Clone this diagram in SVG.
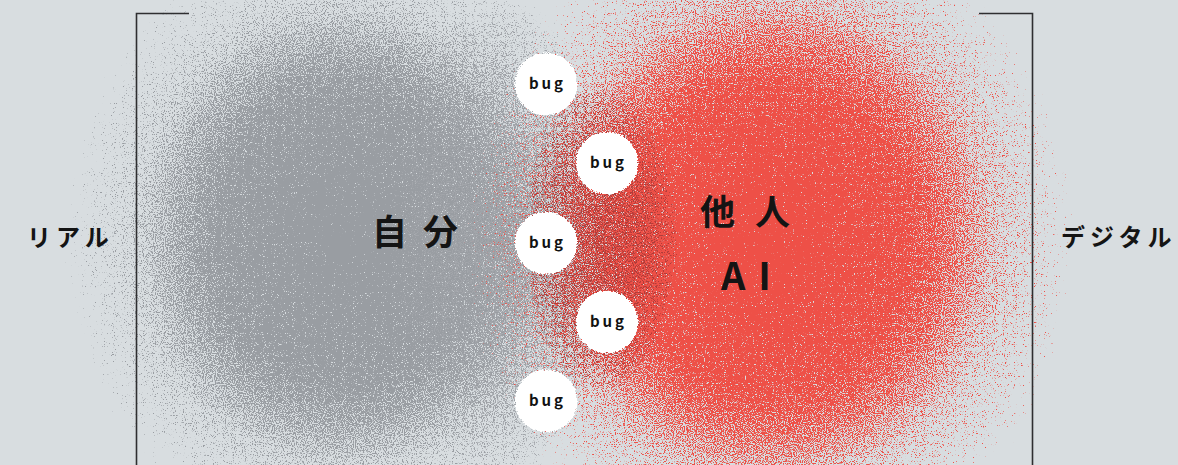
<svg xmlns="http://www.w3.org/2000/svg" width="1178" height="465" viewBox="0 0 1178 465">
  <style>
    .lbl { font-family: "Noto Sans CJK JP", "Noto Sans", sans-serif; font-weight: 700; fill: #141414; }
    .side { font-size: 24px; letter-spacing: 5px; }
    .big { font-size: 35px; letter-spacing: 16px; }
    .big2 { font-size: 35px; letter-spacing: 20px; }
    .ai { font-size: 38px; letter-spacing: 13px; }
    .bug { font-family: "Noto Sans CJK JP", "Noto Sans", sans-serif; font-weight: 700; font-size: 15px; letter-spacing: 3px; fill: #111; text-anchor: middle; }
    .bracket { fill: none; stroke: #2e2e30; stroke-width: 1.6; }
  </style>
  <defs>
    <radialGradient id="gBlob">
      <stop offset="0" stop-color="#000" stop-opacity="1"/>
      <stop offset="0.45" stop-color="#000" stop-opacity="0.82"/>
      <stop offset="0.55" stop-color="#000" stop-opacity="0.69"/>
      <stop offset="0.65" stop-color="#000" stop-opacity="0.56"/>
      <stop offset="0.72" stop-color="#000" stop-opacity="0.44"/>
      <stop offset="0.8" stop-color="#000" stop-opacity="0.35"/>
      <stop offset="0.88" stop-color="#000" stop-opacity="0.27"/>
      <stop offset="0.95" stop-color="#000" stop-opacity="0.18"/>
      <stop offset="1" stop-color="#000" stop-opacity="0"/>
    </radialGradient>
    <radialGradient id="gMid">
      <stop offset="0" stop-color="#000" stop-opacity="0.62"/>
      <stop offset="0.6" stop-color="#000" stop-opacity="0.5"/>
      <stop offset="0.85" stop-color="#000" stop-opacity="0.36"/>
      <stop offset="1" stop-color="#000" stop-opacity="0"/>
    </radialGradient>
    <radialGradient id="gDark">
      <stop offset="0" stop-color="#000" stop-opacity="0.58"/>
      <stop offset="0.6" stop-color="#000" stop-opacity="0.5"/>
      <stop offset="0.85" stop-color="#000" stop-opacity="0.38"/>
      <stop offset="1" stop-color="#000" stop-opacity="0"/>
    </radialGradient>
    <radialGradient id="gDot">
      <stop offset="0" stop-color="#000" stop-opacity="1"/>
      <stop offset="0.93" stop-color="#000" stop-opacity="1"/>
      <stop offset="1" stop-color="#000" stop-opacity="0"/>
    </radialGradient>
    <filter id="fGray" filterUnits="userSpaceOnUse" x="0" y="0" width="1178" height="465" color-interpolation-filters="sRGB">
      <feTurbulence type="fractalNoise" baseFrequency="0.9" numOctaves="2" seed="3" result="t"/>
      <feColorMatrix in="t" type="matrix" values="0 0 0 0 0  0 0 0 0 0  0 0 0 0 0  1.5 0 0 0 -0.25" result="n"/>
      <feComposite in="SourceAlpha" in2="n" operator="arithmetic" k1="0" k2="1.05" k3="-1" k4="-0.03" result="d"/>
      <feComponentTransfer in="d" result="m"><feFuncA type="linear" slope="6" intercept="0"/></feComponentTransfer>
      <feFlood flood-color="#999da2" result="c"/>
      <feComposite in="c" in2="m" operator="in"/>
    </filter>
    <filter id="fGray2" filterUnits="userSpaceOnUse" x="0" y="0" width="1178" height="465" color-interpolation-filters="sRGB">
      <feTurbulence type="fractalNoise" baseFrequency="0.9" numOctaves="2" seed="17" result="t"/>
      <feColorMatrix in="t" type="matrix" values="0 0 0 0 0  0 0 0 0 0  0 0 0 0 0  1.5 0 0 0 -0.25" result="n"/>
      <feComposite in="SourceAlpha" in2="n" operator="arithmetic" k1="0" k2="1.05" k3="-1" k4="-0.03" result="d"/>
      <feComponentTransfer in="d" result="m"><feFuncA type="linear" slope="6" intercept="0"/></feComponentTransfer>
      <feFlood flood-color="#a2a5aa" result="c"/>
      <feComposite in="c" in2="m" operator="in"/>
    </filter>
    <filter id="fRed" filterUnits="userSpaceOnUse" x="0" y="0" width="1178" height="465" color-interpolation-filters="sRGB">
      <feTurbulence type="fractalNoise" baseFrequency="0.9" numOctaves="2" seed="11" result="t"/>
      <feColorMatrix in="t" type="matrix" values="0 0 0 0 0  0 0 0 0 0  0 0 0 0 0  1.5 0 0 0 -0.25" result="n"/>
      <feComposite in="SourceAlpha" in2="n" operator="arithmetic" k1="0" k2="1.05" k3="-1" k4="-0.03" result="d"/>
      <feComponentTransfer in="d" result="m"><feFuncA type="linear" slope="6" intercept="0"/></feComponentTransfer>
      <feFlood flood-color="#ee5047" result="c"/>
      <feComposite in="c" in2="m" operator="in"/>
    </filter>
    <filter id="fDark" filterUnits="userSpaceOnUse" x="0" y="0" width="1178" height="465" color-interpolation-filters="sRGB">
      <feTurbulence type="fractalNoise" baseFrequency="0.9" numOctaves="2" seed="21" result="t"/>
      <feColorMatrix in="t" type="matrix" values="0 0 0 0 0  0 0 0 0 0  0 0 0 0 0  1.5 0 0 0 -0.25" result="n"/>
      <feComposite in="SourceAlpha" in2="n" operator="arithmetic" k1="0" k2="1.05" k3="-1" k4="-0.03" result="d"/>
      <feComponentTransfer in="d" result="m"><feFuncA type="linear" slope="6" intercept="0"/></feComponentTransfer>
      <feFlood flood-color="#b03c39" result="c"/>
      <feComposite in="c" in2="m" operator="in"/>
    </filter>
    <filter id="fDot" filterUnits="userSpaceOnUse" x="0" y="0" width="1178" height="465" color-interpolation-filters="sRGB">
      <feTurbulence type="fractalNoise" baseFrequency="0.9" numOctaves="2" seed="5" result="t"/>
      <feColorMatrix in="t" type="matrix" values="0 0 0 0 0  0 0 0 0 0  0 0 0 0 0  4 0 0 0 -1.5" result="n"/>
      <feComposite in="SourceAlpha" in2="n" operator="arithmetic" k1="0" k2="1.5" k3="-1" k4="-0.04" result="d"/>
      <feComponentTransfer in="d" result="m"><feFuncA type="linear" slope="10" intercept="0"/></feComponentTransfer>
      <feFlood flood-color="#ffffff" result="c"/>
      <feComposite in="c" in2="m" operator="in"/>
    </filter>
  </defs>

  <rect width="1178" height="465" fill="#d8dde0"/>

  <g id="blobs">
    <ellipse cx="345" cy="238" rx="285" ry="320" fill="url(#gBlob)" filter="url(#fGray)"/>
    <ellipse cx="500" cy="238" rx="120" ry="260" fill="url(#gMid)" filter="url(#fGray2)"/>
    <ellipse cx="770" cy="240" rx="310" ry="335" fill="url(#gBlob)" filter="url(#fRed)"/>
    <ellipse cx="600" cy="238" rx="85" ry="170" fill="url(#gDark)" filter="url(#fDark)"/>
  </g>

  <g id="brackets">
    <path class="bracket" d="M189 13.5 H136.5 V465"/>
    <path class="bracket" d="M979 13.5 H1032.5 V465"/>
  </g>

  <g id="connectors"/>

  <g id="real">
    <text class="lbl side" x="27" y="246">リアル</text>
  </g>
  <g id="digital">
    <text class="lbl side" x="1061" y="246">デジタル</text>
  </g>
  <g id="jibun">
    <text class="lbl big" x="372" y="245">自分</text>
  </g>
  <g id="tanin">
    <text class="lbl big2" x="700" y="225">他人</text>
  </g>
  <g id="ai">
    <text class="lbl ai" x="721" y="290">AI</text>
  </g>

  <g id="bug1">
    <circle cx="546" cy="84" r="32" fill="url(#gDot)" filter="url(#fDot)"/>
    <text class="bug" x="547.5" y="89">bug</text>
  </g>
  <g id="bug2">
    <circle cx="607" cy="163" r="32" fill="url(#gDot)" filter="url(#fDot)"/>
    <text class="bug" x="608.5" y="168">bug</text>
  </g>
  <g id="bug3">
    <circle cx="546" cy="243" r="32" fill="url(#gDot)" filter="url(#fDot)"/>
    <text class="bug" x="547.5" y="248">bug</text>
  </g>
  <g id="bug4">
    <circle cx="607" cy="322" r="32" fill="url(#gDot)" filter="url(#fDot)"/>
    <text class="bug" x="608.5" y="327">bug</text>
  </g>
  <g id="bug5">
    <circle cx="546" cy="401" r="32" fill="url(#gDot)" filter="url(#fDot)"/>
    <text class="bug" x="547.5" y="406">bug</text>
  </g>
</svg>
